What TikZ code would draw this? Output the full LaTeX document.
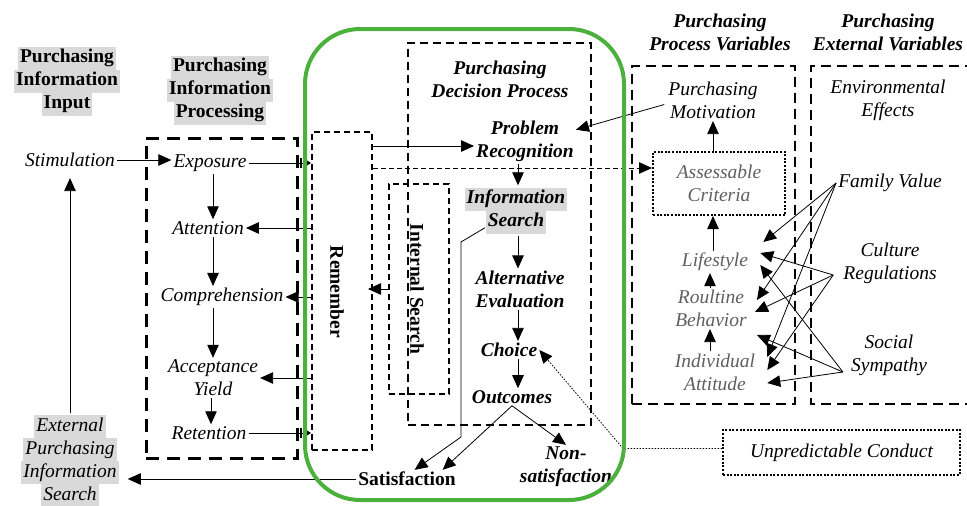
\documentclass[tikz,border=0pt]{standalone}
\usepackage{fontspec}
\setmainfont{Liberation Serif}
\usetikzlibrary{arrows.meta,calc}
\pgfdeclarelayer{front}
\pgfsetlayers{main,front}
\definecolor{framegreen}{RGB}{76,176,60}
\definecolor{hlgray}{RGB}{217,217,217}
\definecolor{softtext}{RGB}{95,95,95}
% grey highlight behind one line of text
\newcommand\hlword[1]{{\setlength{\fboxsep}{0pt}\colorbox{hlgray}{\strut\hspace{2pt}#1\hspace{2pt}}}}

\begin{document}
\begin{tikzpicture}[x=1pt,y=-1pt,
  every node/.style={font=\fontsize{19.5}{23}\selectfont, align=center, inner sep=2pt},
  it/.style={font=\fontsize{19.5}{23}\selectfont\itshape},
  bi/.style={font=\fontsize{19.5}{23}\selectfont\bfseries\itshape},
  bf/.style={font=\fontsize{19.5}{23}\selectfont\bfseries},
  soft/.style={it, text=softtext},
  arr/.style={line width=0.8pt, -{Triangle[length=13pt,width=11.5pt]}},
  smallarr/.style={line width=0.8pt, -{Triangle[length=5pt,width=6pt]}},
  darr/.style={arr, dash pattern=on 5pt off 3pt},
  dotarr/.style={arr, dash pattern=on 1.5pt off 1.5pt},
  procbox/.style={draw, line width=3pt, dash pattern=on 13pt off 8pt},
  decbox/.style={draw, line width=2.3pt, dash pattern=on 8pt off 5pt},
  varbox/.style={draw, line width=2.6pt, dash pattern=on 10pt off 6pt},
  thinbox/.style={draw, line width=2pt, dash pattern=on 6pt off 4pt},
  dotbox/.style={draw, line width=2pt, dash pattern=on 2pt off 1.6pt},
  greenbox/.style={draw=framegreen, line width=4pt, rounded corners=55pt},
]
\useasboundingbox (0,0) rectangle (967,506);

% column headings
\node[bf] (hIn) at (67,81) {\hlword{Purchasing}\\\hlword{Information}\\\hlword{Input}};
\node[bf] (hProc) at (220,90) {\hlword{Purchasing}\\\hlword{Information}\\\hlword{Processing}};
\node[bi] (hDec) at (500,79) {Purchasing\\Decision Process};
\node[bi] (hPV) at (720,32) {Purchasing\\Process Variables};
\node[bi] (hEV) at (888,32) {Purchasing\\External Variables};

% information input and processing
\node[it] (stim) at (70,160) {Stimulation};
\node[it] (expo) at (210,163) {Exposure};
\node[it] (att) at (208,228) {Attention};
\node[it] (comp) at (222,297) {Comprehension};
\node[it] (acc) at (213,378) {Acceptance\\Yield};
\node[it] (ret) at (209,433) {Retention};
\node[it] (ext) at (70,461) {\hlword{External}\\\hlword{Purchasing}\\\hlword{Information}\\\hlword{Search}};

% decision process
\node[bi] (prob) at (525,141) {Problem\\Recognition};
\node[bi] (info) at (516,210.5) {\hlword{Information}\\\hlword{Search}};
\node[bi] (alt) at (520,289) {Alternative\\Evaluation};
\node[bi] (choice) at (509,350) {Choice};
\node[bi] (outc) at (512,397) {Outcomes};
\node[bf] (sat) at (407,479) {Satisfaction};
\node[bi] (non) at (566,467) {Non-\\satisfaction};

% process variables
\node[it] (mot) at (713,100.5) {Purchasing\\Motivation};
\node[soft, dotbox, minimum width=132pt, minimum height=63pt] (ac) at (719,183.5) {Assessable\\Criteria};
\node[soft] (life) at (715,262) {Lifestyle};
\node[soft] (rout) at (711,308.5) {Roultine\\Behavior};
\node[soft] (indiv) at (715,372) {Individual\\Attitude};

% external variables
\node[it] (env) at (888,100) {Environmental\\Effects};
\node[it] (fam) at (890,183) {Family Value};
\node[it] (cult) at (890,263) {Culture\\Regulations};
\node[it] (soc) at (889,355) {Social\\Sympathy};
\node[it, dotbox, minimum width=237pt, minimum height=45pt] (unp) at (841.5,452.5) {Unpredictable Conduct};

% vertical labels
\node[bf, rotate=-90] (remLbl) at (337,292) {Remember};
\node[bf, rotate=-90] (intLbl) at (417,289) {Internal Search};

% frames
\node[procbox, minimum width=151pt, minimum height=320pt] (procBox) at (221.5,298) {};
\node[thinbox, minimum width=60pt, minimum height=318pt] (remBox) at (342,291) {};
\node[thinbox, minimum width=60pt, minimum height=210pt] (intBox) at (419,289) {};
\node[decbox, minimum width=183pt, minimum height=382pt] (decBox) at (499.5,234) {};
\node[varbox, minimum width=163pt, minimum height=338pt] (pvBox) at (713.5,235) {};
\draw[varbox] (975,66) -| (811,404) -- (975,404);
\begin{pgfonlayer}{front}
\node[greenbox, minimum width=319pt, minimum height=471pt] (green) at (464.5,264.5) {};
\end{pgfonlayer}

% guide columns for the vertical chains
\coordinate (colP) at (213,0);
\coordinate (colQ) at (211,0);
\coordinate (colD) at (518,0);
\coordinate (colV) at (713,0);
\coordinate (colW) at (710,0);

% input and processing connectors
\draw[arr] (stim.east) -- (stim.east -| expo.west);
\draw[smallarr] (expo.east) -- (expo.east -| remBox.west);
\draw[line width=1.2pt] ($(expo.east -| remBox.west)+(-10,-5)$) -- ++(0,10);
\draw[arr] (remBox.west |- att.east) -- (att.east);
\draw[arr] (remBox.west |- comp.east) -- (comp.east);
\draw[arr] (remBox.west |- acc.east) -- (acc.east);
\draw[smallarr] (ret.east) -- (ret.east -| remBox.west);
\draw[line width=1.2pt] ($(ret.east -| remBox.west)+(-10,-5)$) -- ++(0,10);
\draw[arr] (colP |- expo.south) -- (colP |- att.north);
\draw[arr] (colP |- att.south) -- (colP |- comp.north);
\draw[arr] (colP |- comp.south) -- (colP |- acc.north);
\draw[arr] (colQ |- acc.south) -- (colQ |- ret.north);
\draw[arr, shorten >=9pt] (ext.north) -- (ext.north |- stim.south);
\draw[arr, shorten >=7pt] (sat.west) -- (sat.west -| ext.east);

% decision process connectors
\coordinate (r1) at ($(remBox.north east)+(0,15)$);
\coordinate (r2) at ($(remBox.north east)+(0,37)$);
\draw[arr] (r1) -- (r1 -| prob.west);
\draw[darr] (r2) -- (r2 -| ac.west);
\draw[arr] (colD |- prob.south) -- (colD |- info.north);
\draw[arr] (colD |- info.south) -- (colD |- alt.north);
\draw[arr] (colD |- alt.south) -- (colD |- choice.north);
\draw[arr] (colD |- choice.south) -- (colD |- outc.north);
\draw[arr] (outc.south) -- ($(sat.north)!0.7!(sat.north east)$);
\draw[arr] (outc.south) -- (non.north);
\coordinate (k1) at (461,242);
\coordinate (k2) at (461,437);
\draw[arr] ($(info.south)+(-31,-8)$) -- (k1) -- (k2) -- ($(sat.north)!0.15!(sat.north east)$);
\draw[arr, shorten >=-5pt] (intBox.west) -- (intBox.west -| remBox.east);
\coordinate (u1) at ($(unp.west)+(-99,-4)$);
\draw[dotarr] (unp.west |- u1) -- (u1) -- (choice.east);

% process variable connectors
\coordinate (m1) at ($(mot.west)+(-2,4)$);
\draw[arr] (m1) -- ($(prob.east)!0.5!(prob.north east)$);
\draw[arr] (colV |- ac.north) -- (colV |- mot.south);
\draw[arr] (colV |- life.north) -- (colV |- ac.south);
\draw[arr] (colW |- rout.north) -- (colW |- life.south);
\draw[arr] (colW |- indiv.north) -- (colW |- rout.south);

% external influences
\coordinate (sF) at (fam.west);
\coordinate (sC) at ($(cult.west)+(-8,12)$);
\coordinate (sS) at ($(soc.west)+(-6,17)$);
\draw[arr] (sF) -- ($(life.east)+(13,-20)$);
\draw[arr] (sF) -- ($(rout.east)+(8,-8.5)$);
\draw[arr] (sF) -- ($(indiv.east)+(10,-15)$);
\draw[arr] (sC) -- ($(life.east)+(10,-9)$);
\draw[arr] (sC) -- ($(rout.east)+(6,3.5)$);
\draw[arr] (sC) -- ($(indiv.east)+(10,-2)$);
\draw[arr] (sS) -- ($(life.east)+(10,3)$);
\draw[arr] (sS) -- ($(rout.east)+(8,26.5)$);
\draw[arr] (sS) -- ($(indiv.east)+(10,11)$);
\end{tikzpicture}
\end{document}
